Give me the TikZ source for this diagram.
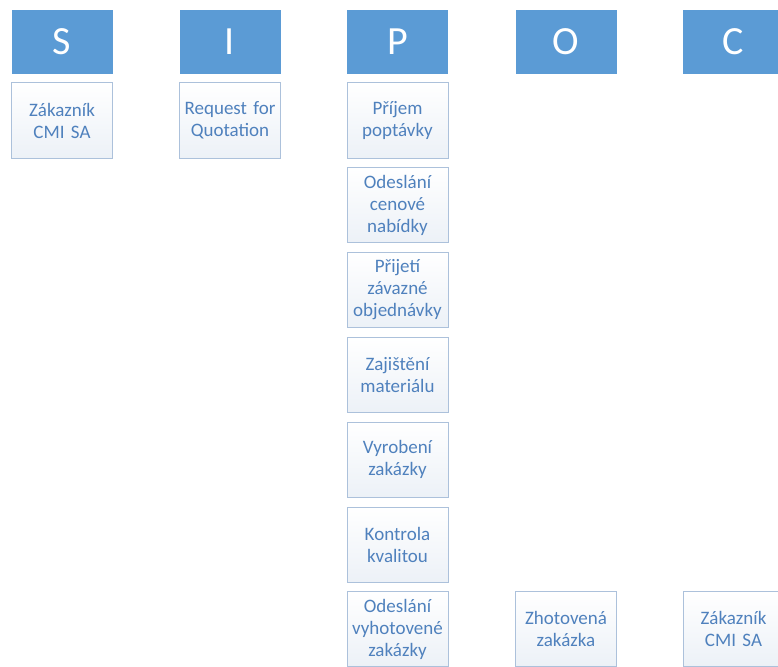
\documentclass[tikz,border=0pt]{standalone}
\usepackage{fontspec}
\setmainfont{Carlito}
\usepackage{xcolor}
\usepackage{tikz}
\usetikzlibrary{shapes,positioning}

\definecolor{headblue}{RGB}{91,155,213}
\definecolor{boxline}{RGB}{172,193,219}
\definecolor{boxtext}{RGB}{79,129,189}
\definecolor{boxshade}{RGB}{236,241,247}

\begin{document}
\begin{tikzpicture}[
    x=1pt, y=-1pt,
    head/.style={rectangle, fill=headblue, text=white, minimum width=101pt, minimum height=64pt, font=\fontsize{40}{44}\selectfont},
    item/.style={rectangle, draw=boxline, line width=1pt, top color=white, bottom color=boxshade, text=boxtext, text width=97pt, text centered, minimum width=101pt, minimum height=75pt, inner sep=2pt, font=\fontsize{19}{22}\selectfont}
]
\useasboundingbox (0,0) rectangle (778,666);
\clip (0,0) rectangle (778,666);

% Header letters
\node[head] (s_head) at (62, 42) {S};
\node[head] (i_head) at (230, 42) {I};
\node[head] (p_head) at (397.5, 42) {P};
\node[head] (o_head) at (566, 42) {O};
\node[head] (c_head) at (733.5, 42) {C};

% Suppliers and inputs
\node[item] (s_cust) at (62, 120.5) {Zákazník \\ CMI SA};
\node[item] (i_rfq) at (230, 120.5) {Request for \\ Quotation};

% Process steps
\node[item] (p_inquiry) at (397.5, 120.5) {Příjem \\ poptávky};
\node[item] (p_offer) at (397.5, 205) {Odeslání \\ cenové \\ nabídky};
\node[item] (p_order) at (397.5, 290) {Přijetí \\ závazné \\ objednávky};
\node[item] (p_material) at (397.5, 375) {Zajištění \\ materiálu};
\node[item] (p_make) at (397.5, 459.5) {Vyrobení \\ zakázky};
\node[item] (p_check) at (397.5, 544.5) {Kontrola \\ kvalitou};
\node[item] (p_ship) at (397.5, 629) {Odeslání \\ vyhotovené \\ zakázky};

% Outputs and customers
\node[item] (o_done) at (566, 629) {Zhotovená \\ zakázka};
\node[item] (c_cust) at (733.5, 629) {Zákazník \\ CMI SA};

\end{tikzpicture}
\end{document}
